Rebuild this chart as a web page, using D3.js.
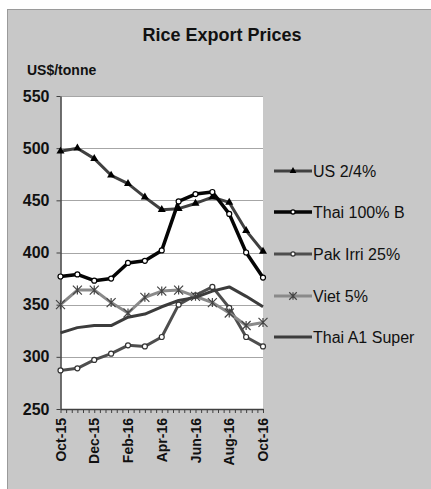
<!DOCTYPE html>
<html>
<head>
<meta charset="utf-8">
<script src="https://cdn.jsdelivr.net/npm/d3@7"></script>
<style>
	body { margin: 0; background: #fff; }
	text { font-family: Arial, "Liberation Sans", sans-serif; }
</style>
</head>
<body>
<div id="plot"></div>
<script>
// Months on the category axis.
var months = ["Oct-15","Nov-15","Dec-15","Jan-16","Feb-16","Mar-16","Apr-16",
	"May-16","Jun-16","Jul-16","Aug-16","Sep-16","Oct-16"];

// Series values, US$/tonne.
var us24      = [497, 500, 490, 474, 466, 453, 441, 442, 447, 453, 448, 421, 401];
var thai100b  = [377, 379, 373, 375, 390, 392, 402, 449, 456, 458, 437, 400, 376];
var pakIrri25 = [287, 289, 297, 303, 311, 310, 319, 350, 359, 367, 347, 319, 310];
var viet5     = [350, 364, 364, 352, 342, 357, 363, 364, 358, 352, 342, 330, 333];
var thaiA1    = [323, 328, 330, 330, 338, 341, 348, 354, 357, 363, 367, 358, 348];

var seriesNames = ["US 2/4%", "Thai 100% B", "Pak Irri 25%", "Viet 5%", "Thai A1 Super"];
var yTicks = [250, 300, 350, 400, 450, 500, 550];

function main(){

	var W = 431, H = 489;
	var plot = {left: 60.5, right: 263, top: 96, bottom: 409};

	var svg = d3.select("#plot")
		.append("svg")
		.attr("width", W)
		.attr("height", H);

	// Grey chart frame.
	svg.append("rect")
		.attr("x", 7.5).attr("y", 9.5)
		.attr("width", W - 7).attr("height", H - 9)
		.attr("fill", "#c8c8c8")
		.attr("stroke", "#9a9a9a");

	// Plot area.
	svg.append("rect")
		.attr("x", plot.left).attr("y", plot.top)
		.attr("width", plot.right - plot.left)
		.attr("height", plot.bottom - plot.top)
		.attr("fill", "#fff");

	var x = d3.scaleLinear()
		.domain([0, months.length - 1])
		.range([plot.left, plot.right]);
	var y = d3.scaleLinear()
		.domain([250, 550])
		.range([plot.bottom, plot.top]);

	// Gridlines.
	svg.append("g")
		.selectAll("line")
		.data(yTicks.slice(1))
		.enter().append("line")
			.attr("x1", plot.left).attr("x2", plot.right)
			.attr("y1", function(d){ return Math.round(y(d)) + 0.5; })
			.attr("y2", function(d){ return Math.round(y(d)) + 0.5; })
			.attr("stroke", "#a6a6a6");

	// Y axis.
	var yAxis = svg.append("g")
		.attr("transform", "translate(" + plot.left + ",0)")
		.call(d3.axisLeft(y).tickValues(yTicks).tickSize(4).tickSizeOuter(0).tickPadding(7));
	yAxis.select(".domain").attr("stroke", "#404040").attr("stroke-width", 1.5);
	yAxis.selectAll(".tick line").attr("stroke", "#404040");
	yAxis.selectAll("text")
		.attr("fill", "#111")
		.style("font-size", "16px")
		.style("font-weight", "bold");

	// X axis, minor ticks every third of a month.
	var xAxis = svg.append("g")
		.attr("transform", "translate(0," + plot.bottom + ")")
		.call(d3.axisBottom(x).tickValues(d3.range(37).map(function(i){ return i / 3; }))
			.tickSize(4).tickSizeOuter(0).tickFormat(""));
	xAxis.select(".domain").attr("stroke", "#404040").attr("stroke-width", 1.5);
	xAxis.selectAll(".tick line").attr("stroke", "#404040");

	svg.append("g")
		.selectAll("text")
		.data(months.filter(function(d, i){ return i % 2 === 0; }))
		.enter().append("text")
			.attr("transform", function(d){
				return "translate(" + (x(months.indexOf(d)) + 5) + "," + (plot.bottom + 9) + ") rotate(-90)";
			})
			.attr("text-anchor", "end")
			.style("font-size", "14px")
			.style("font-weight", "bold")
			.attr("fill", "#111")
			.text(function(d){ return d; });

	// Titles.
	svg.append("text")
		.attr("x", 222).attr("y", 41)
		.attr("text-anchor", "middle")
		.style("font-size", "18px")
		.style("font-weight", "bold")
		.attr("fill", "#111")
		.text("Rice Export Prices");
	svg.append("text")
		.attr("x", 27).attr("y", 75)
		.style("font-size", "14px")
		.style("font-weight", "bold")
		.attr("fill", "#111")
		.text("US$/tonne");

	// Series styles.
	var series = [
		{name: seriesNames[0], values: us24,      color: "#404040", width: 3,   marker: "triangle"},
		{name: seriesNames[1], values: thai100b,  color: "#050505", width: 3.5, marker: "circle"},
		{name: seriesNames[2], values: pakIrri25, color: "#4e4e4e", width: 3,   marker: "circle"},
		{name: seriesNames[3], values: viet5,     color: "#8a8a8a", width: 3,   marker: "star"},
		{name: seriesNames[4], values: thaiA1,    color: "#3c3c3c", width: 3,   marker: "none"}
	];

	var line = d3.line()
		.x(function(d, i){ return x(i); })
		.y(function(d){ return y(d); });

	function drawMarker(g, s, px, py, scale){
		if (s.marker === "triangle") {
			g.append("path")
				.attr("transform", "translate(" + px + "," + py + ")")
				.attr("d", d3.symbol().type(d3.symbolTriangle).size(28 * scale)())
				.attr("fill", "#000");
		} else if (s.marker === "circle") {
			g.append("circle")
				.attr("cx", px).attr("cy", py).attr("r", 2.5 * Math.sqrt(scale))
				.attr("fill", "#fff")
				.attr("stroke", s.name === "Thai 100% B" ? "#000" : "#333")
				.attr("stroke-width", 1.2);
		} else if (s.marker === "star") {
			var r = 4.5 * Math.sqrt(scale);
			g.append("path")
				.attr("d", "M" + (px - r) + "," + (py - r) + "L" + (px + r) + "," + (py + r) +
					"M" + (px - r) + "," + (py + r) + "L" + (px + r) + "," + (py - r) +
					"M" + px + "," + (py - r) + "L" + px + "," + (py + r))
				.attr("stroke", "#444")
				.attr("stroke-width", 1.2)
				.attr("fill", "none");
		}
	}

	series.forEach(function(s){
		var g = svg.append("g");
		g.append("path")
			.datum(s.values)
			.attr("d", line)
			.attr("fill", "none")
			.attr("stroke", s.color)
			.attr("stroke-width", s.width)
			.attr("stroke-linejoin", "round");
		s.values.forEach(function(v, i){ drawMarker(g, s, x(i), y(v), 1); });
	});

	// Legend.
	var legendY = [171, 212, 254, 296, 337];
	series.forEach(function(s, i){
		var g = svg.append("g");
		g.append("line")
			.attr("x1", 274).attr("x2", 312)
			.attr("y1", legendY[i]).attr("y2", legendY[i])
			.attr("stroke", s.color)
			.attr("stroke-width", s.width);
		drawMarker(g, s, 293, legendY[i], 0.7);
		g.append("text")
			.attr("x", 313).attr("y", legendY[i])
			.attr("dy", "0.36em")
			.style("font-size", "16px")
			.attr("fill", "#111")
			.text(s.name);
	});
}

main();
</script>
</body>
</html>
